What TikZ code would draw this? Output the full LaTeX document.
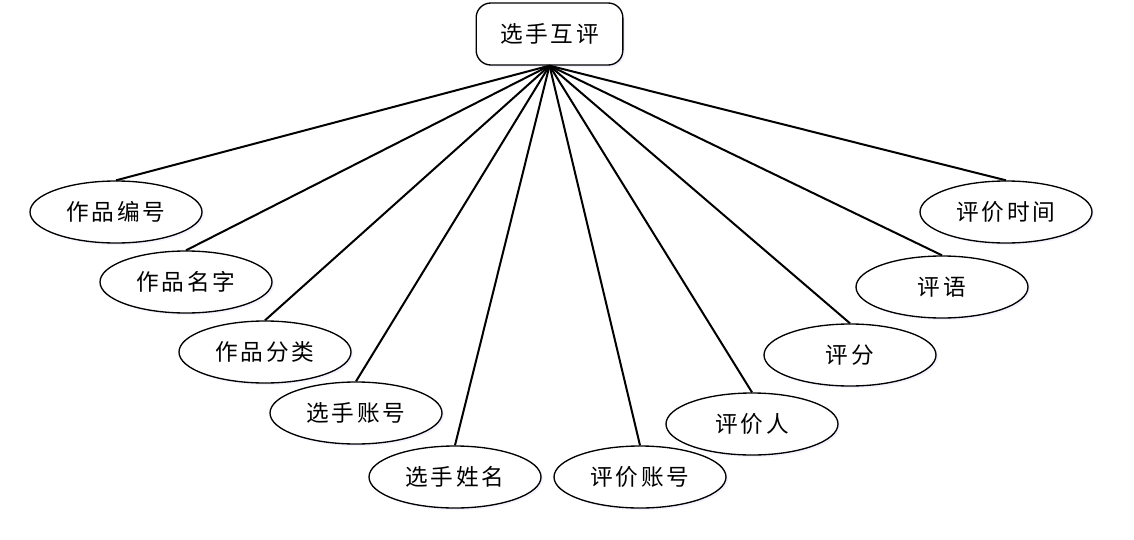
\documentclass[tikz,border=0pt]{standalone}
\usepackage{fontspec}
\setmainfont{Noto Sans CJK SC}[LetterSpace=12]
\usetikzlibrary{shapes.geometric,shadows}
\begin{document}
\begin{tikzpicture}[x=0.75pt,y=-0.75pt,
  attr/.style={ellipse,draw,line width=1pt,fill=white,minimum width=129pt,minimum height=46.5pt,inner sep=0pt,font=\fontsize{17pt}{20pt}\selectfont,
    drop shadow={opacity=0.12,fill=blue!40,shadow xshift=1.5pt,shadow yshift=-1.5pt}},
  rootbox/.style={rectangle,rounded corners=11pt,draw,line width=1pt,fill=white,minimum width=110pt,minimum height=46.5pt,inner sep=0pt,font=\fontsize{17pt}{20pt}\selectfont,
    drop shadow={opacity=0.12,fill=blue!40,shadow xshift=1.5pt,shadow yshift=-1.5pt}},
  link/.style={line width=1.5pt}]
\useasboundingbox (0,0) rectangle (1134,539);
\node[rootbox] (r) at (549.5,34) {选手互评};
\node[attr] (a1) at (116,212) {作品编号};
\node[attr] (a2) at (186,282) {作品名字};
\node[attr] (a3) at (265,352) {作品分类};
\node[attr] (a4) at (356,413) {选手账号};
\node[attr] (a5) at (455,477) {选手姓名};
\node[attr] (a6) at (640,477) {评价账号};
\node[attr] (a7) at (752,424) {评价人};
\node[attr] (a8) at (850,355) {评分};
\node[attr] (a9) at (942,287) {评语};
\node[attr] (a10) at (1006,212) {评价时间};
\foreach \i in {1,...,10} {\draw[link] (r.south) -- (a\i.north);}
\end{tikzpicture}
\end{document}
